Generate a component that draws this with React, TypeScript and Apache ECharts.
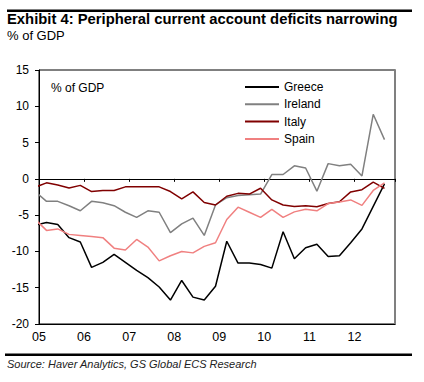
import React, { useEffect, useRef } from "react";
import * as echarts from "echarts";

const FONT = '"Liberation Sans", Arial, Helvetica, sans-serif';

const dates = [
  "2004-12",
  "2005-03", "2005-06", "2005-09", "2005-12",
  "2006-03", "2006-06", "2006-09", "2006-12",
  "2007-03", "2007-06", "2007-09", "2007-12",
  "2008-03", "2008-06", "2008-09", "2008-12",
  "2009-03", "2009-06", "2009-09", "2009-12",
  "2010-03", "2010-06", "2010-09", "2010-12",
  "2011-03", "2011-06", "2011-09", "2011-12",
  "2012-03", "2012-06", "2012-09",
];

const greece = [
  -6.4,
  -6.0, -6.3, -8.1, -8.7,
  -12.2, -11.5, -10.4, -11.5,
  -12.6, -13.6, -14.9, -16.7,
  -14.0, -16.3, -16.7, -14.8,
  -8.6, -11.6, -11.6, -11.8,
  -12.3, -7.3, -11.0, -9.5,
  -9.0, -10.7, -10.6, -8.8,
  -6.9, -3.8, -0.7,
];

const ireland = [
  -1.75,
  -3.1, -3.1, -3.7, -4.4,
  -3.1, -3.3, -3.7, -4.6,
  -5.3, -4.4, -4.6, -7.4,
  -6.2, -5.4, -7.8, -3.6,
  -2.6, -2.3, -2.2, -2.1,
  0.6, 0.6, 1.8, 1.5,
  -1.7, 2.1, 1.8, 2.0,
  0.4, 8.9, 5.4,
];

const italy = [
  -1.15,
  -0.55, -0.85, -1.25, -0.9,
  -1.75, -1.6, -1.6, -1.1,
  -1.1, -1.1, -1.1, -1.75,
  -2.75, -1.8, -3.25, -3.6,
  -2.4, -2.0, -2.1, -1.3,
  -2.9, -3.6, -3.8, -3.7,
  -3.85, -3.4, -3.15, -1.8,
  -1.5, -0.45, -1.3,
];

const spain = [
  -5.6,
  -7.1, -6.9, -7.65, -7.8,
  -7.95, -8.1, -9.55, -9.8,
  -8.35, -9.4, -11.3, -10.6,
  -10.0, -10.2, -9.3, -8.8,
  -5.6, -3.9, -4.6, -5.3,
  -4.2, -5.3, -4.55, -4.2,
  -4.4, -3.4, -3.2, -2.9,
  -3.65, -1.6, -0.55,
];

const seriesNames = ["Greece", "Ireland", "Italy", "Spain"];
const seriesColors = ["#000000", "#808080", "#800000", "#f08080"];
const seriesValues = [greece, ireland, italy, spain];

const yTicks = { min: -20, max: 15, interval: 5 };
const xRange = { min: 2005, max: 2012.9, interval: 1 };

const toX = (d: string) => {
  const [y, m] = d.split("-").map(Number);
  return y + (m - 1) / 12;
};

export default function App() {
  const ref = useRef<HTMLDivElement>(null);

  useEffect(() => {
    if (!ref.current) return;
    const chart = echarts.init(ref.current, undefined, { renderer: "svg" });
    const yearLabel = (v: number) =>
      Math.abs(v - Math.round(v)) < 1e-6 ? String(Math.round(v)).slice(2) : "";

    chart.setOption({
      animation: false,
      backgroundColor: "#ffffff",
      textStyle: { fontFamily: FONT },
      grid: {
        left: 39,
        right: 29,
        top: 70,
        bottom: 58,
        show: true,
        borderColor: "#000",
        borderWidth: 1,
        containLabel: false,
      },
      legend: {
        data: seriesNames,
        orient: "vertical",
        left: 239,
        top: 76,
        itemWidth: 34,
        itemHeight: 14,
        itemGap: 5.3,
        selectedMode: false,
        itemStyle: { opacity: 0 },
        textStyle: { fontFamily: FONT, fontSize: 12, color: "#000" },
      },
      xAxis: [
        {
          type: "value",
          position: "bottom",
          min: xRange.min,
          max: xRange.max,
          interval: xRange.interval,
          axisLine: { show: true, onZero: false, lineStyle: { color: "#000", width: 1 } },
          axisTick: { show: false },
          axisLabel: {
            formatter: yearLabel,
            margin: 6,
            fontFamily: FONT,
            fontSize: 12.5,
            color: "#000",
            showMaxLabel: false,
          },
          splitLine: { show: false },
        },
        {
          type: "value",
          position: "bottom",
          min: xRange.min,
          max: xRange.max,
          interval: xRange.interval,
          axisLine: { show: true, onZero: true, lineStyle: { color: "#000", width: 1 } },
          axisTick: { show: true, length: 3, lineStyle: { color: "#000" } },
          axisLabel: { show: false },
          splitLine: { show: false },
        },
      ],
      yAxis: [
        {
          type: "value",
          position: "left",
          min: yTicks.min,
          max: yTicks.max,
          interval: yTicks.interval,
          axisLine: { show: true, onZero: false, lineStyle: { color: "#000", width: 1 } },
          axisTick: { show: true, length: 4, lineStyle: { color: "#000" } },
          axisLabel: { margin: 10, fontFamily: FONT, fontSize: 12, color: "#000" },
          splitLine: { show: false },
        },
        {
          type: "value",
          position: "right",
          min: yTicks.min,
          max: yTicks.max,
          interval: yTicks.interval,
          axisLine: { show: true, onZero: false, lineStyle: { color: "#808080", width: 2 } },
          axisTick: { show: false },
          axisLabel: { show: false },
          splitLine: { show: false },
        },
      ],
      series: seriesNames.map((name, i) => ({
        name,
        type: "line",
        xAxisIndex: 0,
        yAxisIndex: 0,
        symbol: "none",
        clip: true,
        color: seriesColors[i],
        lineStyle: { color: seriesColors[i], width: 1.5 },
        data: dates.map((d, j) => [toX(d), seriesValues[i][j]]),
        z: 3 + i,
      })),
      graphic: [
        { type: "rect", shape: { x: 7, y: 9.5, width: 405, height: 2.5 }, style: { fill: "#000" } },
        {
          type: "text",
          x: 7,
          y: 19,
          style: {
            text: "Exhibit 4: Peripheral current account deficits narrowing",
            fontFamily: FONT,
            fontWeight: "bold",
            fontSize: 14.8,
            fill: "#000",
            verticalAlign: "middle",
          },
        },
        {
          type: "text",
          x: 7,
          y: 35.5,
          style: { text: "% of GDP", fontFamily: FONT, fontSize: 13, fill: "#000", verticalAlign: "middle" },
        },
        {
          type: "text",
          x: 51,
          y: 88,
          style: { text: "% of GDP", fontFamily: FONT, fontSize: 12, fill: "#000", verticalAlign: "middle" },
        },
        { type: "rect", shape: { x: 5, y: 353.5, width: 407, height: 2.5 }, style: { fill: "#000" } },
        {
          type: "text",
          x: 7,
          y: 363.5,
          style: {
            text: "Source: Haver Analytics, GS Global ECS Research",
            fontFamily: FONT,
            fontStyle: "italic",
            fontSize: 11,
            fill: "#222",
            verticalAlign: "middle",
          },
        },
      ],
    });
    return () => chart.dispose();
  }, []);

  return (
    <div
      ref={ref}
      style={{ position: "fixed", left: 0, top: 0, width: 424, height: 382, background: "#fff" }}
    />
  );
}
